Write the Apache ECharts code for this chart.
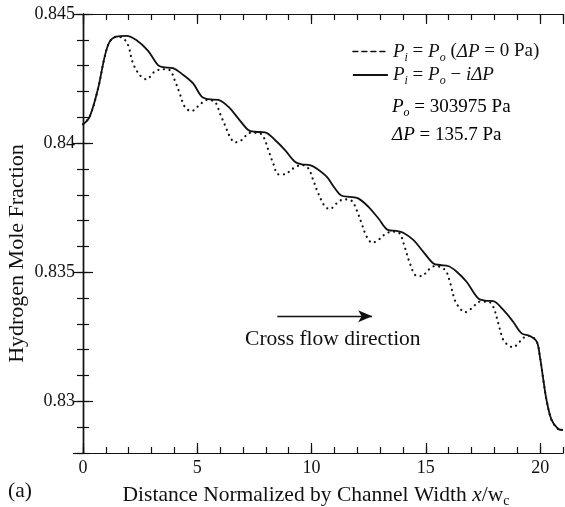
<!DOCTYPE html>
<html>
<head>
<meta charset="utf-8">
<script src="https://cdn.jsdelivr.net/npm/echarts@6/dist/echarts.min.js"></script>
<style>
html,body{margin:0;padding:0;background:#fff;}
#c{width:565px;height:507px;}
</style>
</head>
<body>
<div id="c"></div>
<script>
// ---- data ----
const xSolid = [0,0.29,0.66,0.95,1.17,1.46,1.90,2.33,2.84,3.28,3.5,3.94,4.30,4.81,5.19,5.48,5.92,6.36,6.79,7.23,7.52,7.96,8.40,8.84,9.27,9.57,9.93,10.22,10.66,11.02,11.32,11.68,12.04,12.48,12.92,13.36,13.72,14.01,14.45,14.89,15.33,15.62,15.98,16.35,16.78,17.29,17.59,17.95,18.39,18.82,19.19,19.55,19.85,19.99,20.14,20.28,20.5,20.79,21.0];
const ySolid = [0.84073,0.84102,0.84212,0.84335,0.84393,0.84412,0.84415,0.84399,0.84358,0.84302,0.84294,0.84290,0.84270,0.84232,0.84180,0.84170,0.84167,0.84141,0.84096,0.84051,0.84044,0.84042,0.84012,0.83973,0.83928,0.83918,0.83915,0.83902,0.83870,0.83825,0.83796,0.83792,0.83786,0.83754,0.83709,0.83663,0.83660,0.83653,0.83625,0.83579,0.83534,0.83528,0.83524,0.83502,0.83463,0.83399,0.83390,0.83388,0.83354,0.83308,0.83263,0.83253,0.83231,0.83173,0.83083,0.83005,0.82928,0.82893,0.82889];
const xDotted = [0,0.29,0.66,0.95,1.17,1.46,1.75,1.97,2.19,2.48,2.77,3.14,3.5,3.79,4.01,4.23,4.45,4.74,5.1,5.41,5.77,5.99,6.21,6.43,6.65,6.94,7.31,7.67,7.89,8.11,8.32,8.54,8.84,9.13,9.57,9.86,10.07,10.29,10.59,10.80,11.1,11.39,11.75,11.97,12.19,12.41,12.66,12.92,13.28,13.65,13.87,14.09,14.3,14.57,14.82,15.11,15.40,15.84,16.05,16.27,16.49,16.71,17.0,17.37,17.73,17.95,18.17,18.39,18.6,18.82,19.04,19.34,19.55,19.85,19.99,20.14,20.28,20.5,20.79,21.0];
const yDotted = [0.84073,0.84102,0.84212,0.84335,0.84393,0.84412,0.84406,0.84380,0.84309,0.84264,0.84247,0.84277,0.84286,0.84283,0.84244,0.84193,0.84141,0.84124,0.84148,0.84167,0.84160,0.84115,0.84070,0.84025,0.84003,0.84012,0.84040,0.84040,0.84025,0.83973,0.83922,0.83879,0.83879,0.83899,0.83915,0.83902,0.83857,0.83806,0.83754,0.83745,0.83767,0.83782,0.83777,0.83741,0.83689,0.83638,0.83614,0.83625,0.83651,0.83657,0.83648,0.83593,0.83535,0.83487,0.83485,0.83509,0.83524,0.83509,0.83463,0.83392,0.83360,0.83345,0.83360,0.83386,0.83386,0.83366,0.83302,0.83237,0.83218,0.83209,0.83225,0.83250,0.83253,0.83231,0.83173,0.83083,0.83005,0.82928,0.82893,0.82889];
const seriesNames = ['dotted', 'solid'];
const xRange = [0, 21];
const yRange = [0.828, 0.845];
const arrowX = [8.5, 12.65];
const arrowY = 0.8333;
const annotationPos = [10.93, 0.83241];

const zip = (xs, ys) => xs.map((x, i) => [x, ys[i]]);
const FONT = '"Liberation Serif", "Times New Roman", serif';
const INK = '#111';
const GRID = {left: 83, top: 14, right: 2, bottom: 54, containLabel: false, outerBoundsMode: 'none'};

const rich = {
  n: {fontFamily: FONT, fontSize: 19, color: INK, lineHeight: 24},
  it: {fontFamily: FONT, fontSize: 19, color: INK, fontStyle: 'italic', lineHeight: 24},
  sub: {fontFamily: FONT, fontSize: 12, color: INK, fontStyle: 'italic', verticalAlign: 'bottom'}
};
const legendText = {
  dotted: '{it|P}{sub|i}{n| = }{it|P}{sub|o}{n| (}{it|ΔP}{n| = 0 Pa)}',
  solid: '{it|P}{sub|i}{n| = }{it|P}{sub|o}{n| − }{it|iΔP}'
};

function axisX(gridIndex, pos, interval, len, labels) {
  return {
    type: 'value', gridIndex, position: pos, min: xRange[0], max: xRange[1], interval,
    axisLine: {show: true, lineStyle: {color: INK, width: 1.2}},
    axisTick: {show: true, inside: true, length: len, lineStyle: {color: INK, width: 1.2}},
    axisLabel: {show: labels, showMaxLabel: false, margin: 6, fontFamily: FONT, fontSize: 18, color: INK},
    splitLine: {show: false}
  };
}
function axisY(gridIndex, pos, opt, len, labels) {
  return Object.assign({
    type: 'value', gridIndex, position: pos, min: yRange[0], max: yRange[1], scale: true,
    axisLine: {show: true, lineStyle: {color: INK, width: 1.2}},
    axisTick: {show: true, inside: true, length: len, lineStyle: {color: INK, width: 1.2}},
    axisLabel: {show: labels, showMinLabel: false, margin: 8, fontFamily: FONT, fontSize: 18, color: INK,
      formatter: v => String(parseFloat(v.toFixed(4)))},
    splitLine: {show: false}
  }, opt);
}

const xMajor = axisX(0, 'bottom', 5, 10, true);
xMajor.name = '{n|Distance Normalized by Channel Width }{it|x}{n|/w}{sub2|c}';
xMajor.nameLocation = 'middle';
xMajor.nameGap = 29;
xMajor.nameMoveOverlap = false;
xMajor.nameTextStyle = {padding: [0, 14, 0, 0], rich: {
  n: {fontFamily: FONT, fontSize: 21.5, color: INK, lineHeight: 26},
  it: {fontFamily: FONT, fontSize: 21.5, color: INK, fontStyle: 'italic', lineHeight: 26},
  sub2: {fontFamily: FONT, fontSize: 14, color: INK, verticalAlign: 'bottom'}
}};
const yMajor = axisY(0, 'left', {splitNumber: 3}, 10, true);
yMajor.name = 'Hydrogen Mole Fraction';
yMajor.nameLocation = 'middle';
yMajor.nameGap = 55;
yMajor.nameMoveOverlap = false;
yMajor.nameTextStyle = {fontFamily: FONT, fontSize: 22, color: INK, padding: [0, 40, 0, 0]};

const chart = echarts.init(document.getElementById('c'), null, {renderer: 'canvas'});
chart.setOption({
  animation: false,
  backgroundColor: '#fff',
  color: [INK, INK],
  grid: [Object.assign({}, GRID), Object.assign({}, GRID)],
  xAxis: [
    xMajor,
    axisX(0, 'top', 5, 10, false),
    axisX(1, 'bottom', 1, 6, false),
    axisX(1, 'top', 1, 6, false)
  ],
  yAxis: [
    yMajor,
    axisY(0, 'right', {splitNumber: 3}, 10, false),
    axisY(1, 'left', {interval: 0.001}, 6, false),
    axisY(1, 'right', {interval: 0.001}, 6, false)
  ],
  legend: {
    show: true, orient: 'vertical', left: 347, top: 37, itemWidth: 35, itemHeight: 14, itemGap: 2,
    selectedMode: false,
    data: [
      {name: seriesNames[0], itemStyle: {opacity: 0, color: 'transparent', borderWidth: 0}, lineStyle: {type: [5, 4], width: 1.5, color: INK}},
      {name: seriesNames[1], itemStyle: {opacity: 0, color: 'transparent', borderWidth: 0}, lineStyle: {type: 'solid', width: 1.8, color: INK}}
    ],
    formatter: name => legendText[name],
    textStyle: {rich}
  },
  series: [
    {
      name: seriesNames[0], type: 'line', xAxisIndex: 0, yAxisIndex: 0,
      data: zip(xDotted, yDotted), symbol: 'none', showSymbol: false, smooth: 0.35,
      itemStyle: {color: INK},
      lineStyle: {color: INK, width: 2.2, type: [0.1, 5.5], cap: 'round'}, z: 2
    },
    {
      name: seriesNames[1], type: 'line', xAxisIndex: 0, yAxisIndex: 0,
      data: zip(xSolid, ySolid), symbol: 'none', showSymbol: false, smooth: 0.35,
      itemStyle: {color: INK},
      lineStyle: {color: INK, width: 1.8, type: 'solid'}, z: 3,
      markLine: {
        silent: true, symbol: ['none', 'arrow'], symbolSize: [9, 14],
        label: {show: false},
        lineStyle: {color: INK, width: 1.4, type: 'solid'},
        data: [[{coord: [arrowX[0], arrowY]}, {coord: [arrowX[1], arrowY]}]]
      }
    }
  ]
});

const p = chart.convertToPixel({xAxisIndex: 0, yAxisIndex: 0}, annotationPos);
chart.setOption({
  graphic: [
    {type: 'text', x: 392, y: 107, style: {text: '{it|P}{sub|o}{n| = 303975 Pa}', rich, verticalAlign: 'middle'}},
    {type: 'text', x: 392, y: 135, style: {text: '{it|ΔP}{n| = 135.7 Pa}', rich, verticalAlign: 'middle'}},
    {type: 'text', x: p[0], y: p[1], style: {text: 'Cross flow direction', font: '21.5px ' + FONT, fill: INK, align: 'center', verticalAlign: 'middle'}},
    {type: 'text', x: 8, y: 491, style: {text: '(a)', font: '21.5px ' + FONT, fill: INK, align: 'left', verticalAlign: 'middle'}}
  ]
});
</script>
</body>
</html>
